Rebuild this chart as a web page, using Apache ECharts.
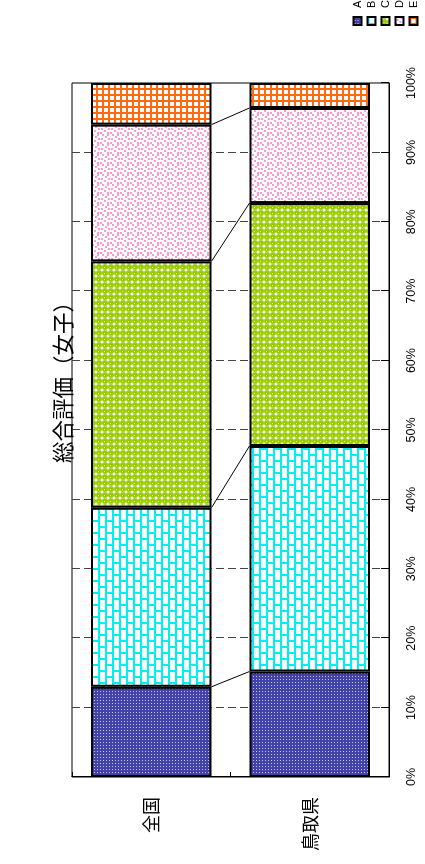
<!DOCTYPE html>
<html>
<head>
<meta charset="utf-8">
<script src="https://cdn.jsdelivr.net/npm/echarts@6/dist/echarts.min.js"></script>
<style>
html,body{margin:0;padding:0;width:425px;height:864px;overflow:hidden;background:#fff;}
#main{position:absolute;left:0;top:0;width:864px;height:425px;transform-origin:0 0;transform:translate(0px,864px) rotate(-90deg);}
</style>
</head>
<body>
<div id="main"></div>
<script>
// ---- data ----
const categories = ['全国', '鳥取県'];
const seriesNames = ['A', 'B', 'C', 'D', 'E'];
const valuesA = [13.0, 15.2];
const valuesB = [25.8, 32.5];
const valuesC = [35.5, 35.0];
const valuesD = [19.7, 13.7];
const valuesE = [6.0, 3.6];
const tickLabels = ['0%','10%','20%','30%','40%','50%','60%','70%','80%','90%','100%'];
const titleText = '総合評価（女子）';

// ---- patterns ----
function tile(w, h, draw) {
  const c = document.createElement('canvas');
  c.width = w; c.height = h;
  const g = c.getContext('2d');
  draw(g, w, h);
  return { image: c, repeat: 'repeat' };
}
const patA = tile(3, 3, (g) => {
  g.fillStyle = '#4242a8'; g.fillRect(0, 0, 3, 3);
  g.fillStyle = '#c4c4f0'; g.fillRect(1, 1, 1, 1);
});
const patB = tile(12, 14, (g) => {
  g.fillStyle = '#ffffff'; g.fillRect(0, 0, 12, 14);
  g.fillStyle = '#00f0f0';
  g.fillRect(0, 0, 12, 2);
  g.fillRect(0, 7, 12, 2);
  g.fillRect(0, 0, 2, 7);
  g.fillRect(6, 7, 2, 7);
});
const patC = tile(6, 6, (g) => {
  g.fillStyle = '#ffffff'; g.fillRect(0, 0, 6, 6);
  g.fillStyle = '#99cc00';
  g.beginPath(); g.arc(3, 3, 2.9, 0, Math.PI * 2); g.fill();
  g.fillStyle = '#e8f5c0'; g.fillRect(2, 2, 1, 1);
});
const patD = tile(10, 10, (g) => {
  g.fillStyle = '#ffffff'; g.fillRect(0, 0, 10, 10);
  g.fillStyle = '#ff99cc';
  [[0,0],[4,1],[8,2],[2,4],[6,5],[0,7],[4,8],[8,7]].forEach(p => g.fillRect(p[0], p[1], 2, 2));
});
const patE = tile(6, 6, (g) => {
  g.fillStyle = '#ffffff'; g.fillRect(0, 0, 6, 6);
  g.fillStyle = '#ff6a10';
  g.fillRect(0, 0, 6, 2);
  g.fillRect(0, 0, 2, 6);
});
const patterns = [patA, patB, patC, patD, patE];
const allValues = [valuesA, valuesB, valuesC, valuesD, valuesE];

// connector data (cumulative boundaries)
const connectors = [];
let cum0 = 0, cum1 = 0;
for (let i = 0; i < allValues.length - 1; i++) {
  cum0 += allValues[i][0]; cum1 += allValues[i][1];
  connectors.push([cum0, cum1]);
}

const BAR_RATIO = 0.76;
const series = seriesNames.map((n, i) => ({
  name: n,
  type: 'bar',
  stack: 'total',
  barWidth: (BAR_RATIO * 100) + '%',
  data: allValues[i],
  itemStyle: { color: patterns[i], borderColor: '#000', borderWidth: 2 },
  emphasis: { disabled: true },
  animation: false
}));
series.push({
  type: 'custom',
  silent: true,
  animation: false,
  data: connectors,
  encode: { x: [0, 1] },
  renderItem: function (params, api) {
    const a = api.coord([api.value(0), 0]);
    const b = api.coord([api.value(1), 1]);
    const band = api.size([0, 1])[1];
    const half = band * BAR_RATIO / 2;
    return {
      type: 'line',
      shape: { x1: a[0], y1: a[1] + half, x2: b[0], y2: b[1] - half },
      style: { stroke: '#000', lineWidth: 1 }
    };
  }
});

const chart = echarts.init(document.getElementById('main'), null, { renderer: 'canvas' });
chart.setOption({
  animation: false,
  backgroundColor: '#fff',
  title: {
    text: titleText,
    left: 482, top: 47, textAlign: 'center',
    textStyle: { fontFamily: 'Noto Sans CJK JP', fontSize: 21.5, fontWeight: 'normal', color: '#000' }
  },
  legend: {
    orient: 'vertical',
    left: 838, top: 352,
    padding: 0,
    itemWidth: 8, itemHeight: 8, itemGap: 3,
    icon: 'rect',
    data: seriesNames,
    selectedMode: false,
    textStyle: { fontFamily: 'Liberation Sans', fontSize: 11, color: '#000', padding: [0, 0, 0, 4] }
  },
  grid: {
    left: 87, right: 83, top: 72, bottom: 36,
    show: true, borderColor: '#000', borderWidth: 1, containLabel: false
  },
  xAxis: {
    type: 'value', min: 0, max: 100, interval: 10,
    axisLine: { show: true, lineStyle: { color: '#000' } },
    axisTick: { show: true, inside: true, length: 8, lineStyle: { color: '#000' } },
    axisLabel: {
      margin: 16,
      formatter: (v) => tickLabels[Math.round(v / 10)],
      fontFamily: 'Liberation Sans', fontSize: 12.5, color: '#000'
    },
    splitLine: { show: true, showMinLine: false, showMaxLine: false,
      lineStyle: { color: '#444', type: [8, 4], width: 1 } }
  },
  yAxis: {
    type: 'category', data: categories, inverse: true,
    axisLine: { show: true, lineStyle: { color: '#000' } },
    axisTick: { show: true, inside: true, length: 5, lineStyle: { color: '#000' } },
    axisLabel: { margin: 20, fontFamily: 'Noto Sans CJK JP', fontSize: 18, color: '#000' },
    splitLine: { show: false }
  },
  series: series
});
</script>
</body>
</html>
